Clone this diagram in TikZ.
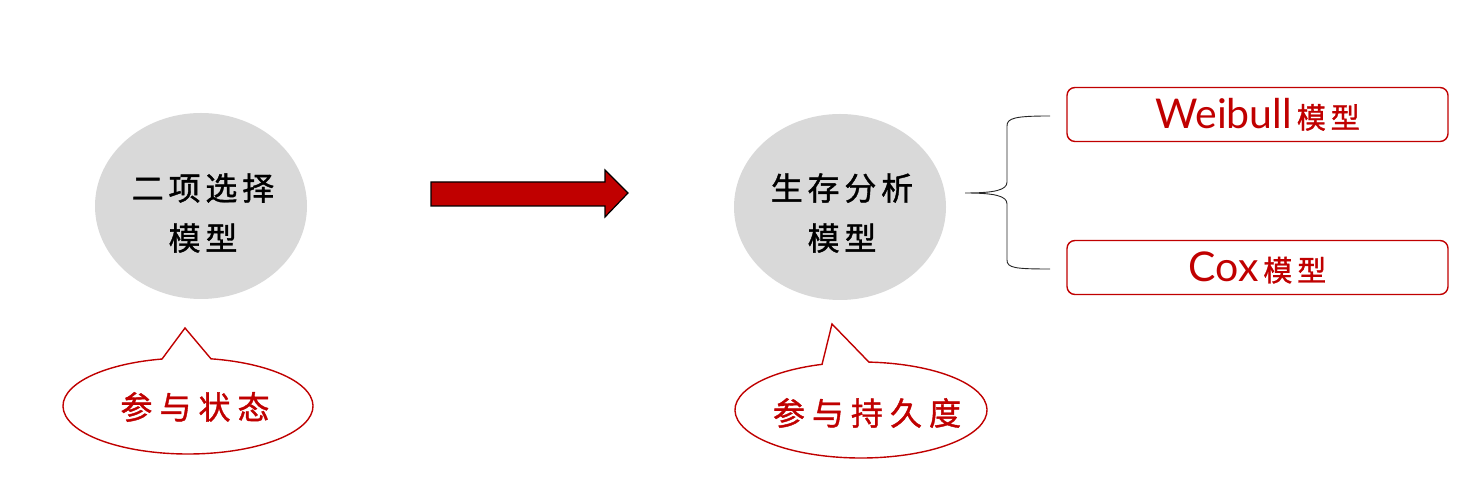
\documentclass[tikz,border=0pt]{standalone}
\usepackage{fontspec}
\usetikzlibrary{shapes.geometric,calc}
\setmainfont{Lato}
\newfontfamily\cjk[FakeBold=1.2]{Noto Sans CJK SC}
\newfontfamily\cjkspaced[LetterSpace=15,FakeBold=1.2]{Noto Sans CJK SC}
\newfontfamily\cjkcall[LetterSpace=22,FakeBold=1.2]{Noto Sans CJK SC}
\definecolor{dred}{HTML}{C00000}
\definecolor{cgray}{HTML}{D9D9D9}
\begin{document}
\begin{tikzpicture}[x=1pt,y=1pt,
  circ/.style={ellipse, fill=cgray, minimum width=212pt, minimum height=186pt, inner sep=0pt},
  circtext/.style={align=center, text=black, inner sep=0pt, font=\cjkspaced\fontsize{32}{50}\selectfont},
  calltext/.style={text=dred, inner sep=0pt, font=\cjkcall\fontsize{32}{34}\selectfont},
  modelbox/.style={draw=dred, line width=1.4pt, rounded corners=8pt, minimum width=381pt,
    minimum height=54pt, inner sep=0pt, text=dred},
  callline/.style={draw=dred, line width=1.4pt, fill=white},
  bracel/.style={draw=black!85, line width=0.9pt},
  bigarrow/.style={fill=dred, draw=black, line width=1.2pt}
]
\useasboundingbox (0,0) rectangle (1464,478);
% circles
\node[circ] (c1) at (201,272) {};
\node[circtext] (t1) at (203,265) {二项选择\\模型};
\node[circ] (c2) at (840,271) {};
\node[circtext] (t2) at (842,265) {生存分析\\模型};
% arrow
\draw[bigarrow] (431,296) -- (605,296) -- (605,308) -- (628,285) -- (605,261) -- (605,272) -- (431,272) -- cycle;
% callouts
\coordinate (tip1) at (185,150);
\draw[callline] (tip1) -- ($(188,72)+(102:125 and 48)$) arc[start angle=102, end angle=439.4, x radius=125, y radius=48] -- cycle;
\node[calltext] (k1) at (195,71) {参与状态};
\coordinate (tip2) at (832,154);
\draw[callline] (tip2) -- ($(861,68)+(108:126 and 48)$) arc[start angle=108, end angle=446.4, x radius=126, y radius=48] -- cycle;
\node[calltext] (k2) at (867,65) {参与持久度};
% boxes
\node[modelbox] (w) at (1257.5,363.5) {{\fontsize{41}{44}\selectfont Weibull}{\cjk\fontsize{29}{30}\selectfont\,模\,型}};
\node[modelbox] (cx) at (1257.5,210.5) {{\fontsize{41}{44}\selectfont Cox}{\cjk\fontsize{29}{30}\selectfont\,模\,型}};
% brace
\coordinate (bm) at (965,285);
\coordinate (bt) at (1050,362);
\coordinate (bb) at (1050,209);
\draw[bracel] (bt) .. controls (1015,362) and (1007,360) .. (1007,352) -- (1007,296) .. controls (1007,288) and (995,285) .. (bm)
  .. controls (995,285) and (1007,282) .. (1007,274) -- (1007,218) .. controls (1007,210) and (1015,209) .. (bb);
\end{tikzpicture}
\end{document}
